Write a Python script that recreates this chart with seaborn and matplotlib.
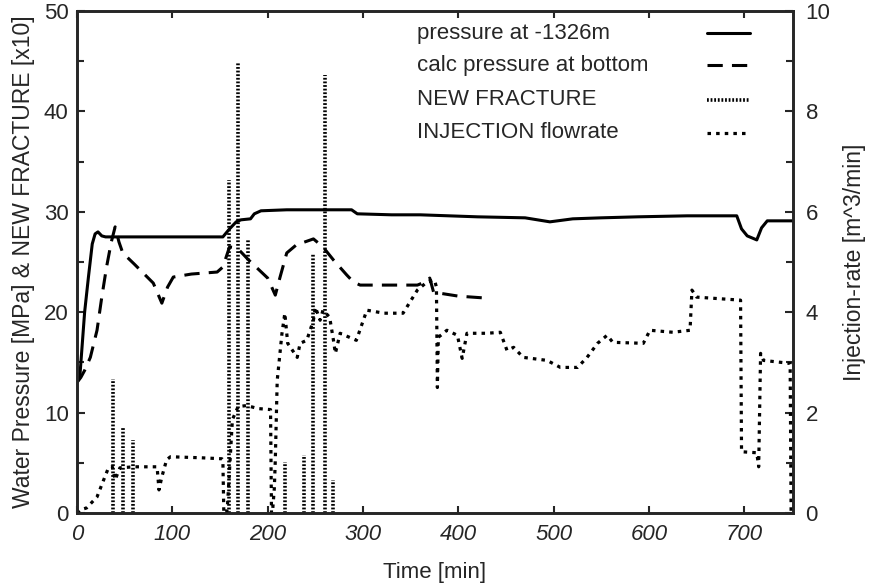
import matplotlib
matplotlib.use("Agg")
import matplotlib.pyplot as plt
import seaborn as sns
from matplotlib.ticker import MultipleLocator
from matplotlib.lines import Line2D

# style first, fonts after (set_style resets font.family)
sns.set_style("ticks")
plt.rcParams['font.family'] = ['Liberation Sans', 'DejaVu Sans']

# pressure at -1326m [MPa]
press_t = [0, 3, 8, 12, 16, 19, 22, 26, 30, 60, 100, 153, 160, 167, 172, 182, 186, 193,
           220, 260, 288, 294, 330, 360, 420, 470, 496, 520, 550, 588, 640, 692, 697,
           703, 713, 718, 724, 735, 750]
press_p = [13.0, 13.6, 20.0, 23.5, 26.8, 27.8, 28.0, 27.6, 27.5, 27.5, 27.5, 27.5, 28.3,
           29.0, 29.2, 29.3, 29.8, 30.1, 30.2, 30.2, 30.2, 29.8, 29.7, 29.7, 29.5, 29.4,
           29.0, 29.3, 29.4, 29.5, 29.6, 29.6, 28.3, 27.6, 27.2, 28.4, 29.1, 29.1, 29.1]

# calc pressure at bottom [MPa]
calc_t = [0, 4, 8, 14, 21, 26, 31, 36, 40, 44, 48, 60, 80, 89, 95, 101, 120, 147, 153,
          160, 168, 180, 190, 200, 208, 213, 220, 230, 248, 258, 269, 283, 290, 297, 330,
          357, 365, 370, 374, 380, 400, 430]
calc_p = [13.0, 13.5, 14.2, 15.5, 18.2, 21.5, 24.5, 27.0, 28.5, 27.0, 25.9, 24.8, 22.9,
          20.9, 22.5, 23.5, 23.8, 24.0, 24.5, 26.5, 26.4, 25.2, 24.3, 23.4, 21.7, 23.5,
          25.9, 26.7, 27.3, 26.5, 25.2, 23.7, 23.0, 22.7, 22.7, 22.7, 23.0, 23.4, 22.0,
          21.9, 21.6, 21.4]

# new fracture events [x10]
frac_t = [38, 48, 59, 159, 169, 179, 218, 238, 248, 260, 268]
frac_h = [13.3, 8.5, 7.3, 33.2, 44.8, 27.2, 5.1, 5.8, 25.9, 43.6, 3.3]

# injection flowrate [m^3/min]
inj_t = [0, 3, 10, 21, 28, 33, 37, 40, 45, 60, 84, 86, 89, 94, 98, 130, 152, 153, 154,
         157, 158, 163, 169, 178, 190, 203, 204, 205, 207, 208, 210, 215, 218, 221, 231,
         234, 241, 248, 250, 255, 258, 265, 269, 271, 276, 293, 304, 322, 342, 357, 367,
         375, 377, 378, 379, 388, 399, 404, 409, 430, 444, 451, 458, 468, 493, 507, 525,
         535, 546, 556, 562, 594, 601, 625, 643, 645, 650, 696, 697, 713, 715, 717, 720,
         748, 749]
inj_q = [0.0, 0.06, 0.1, 0.32, 0.66, 0.9, 0.92, 0.66, 0.9, 0.92, 0.92, 0.46, 0.72, 1.06,
         1.12, 1.1, 1.08, 1.06, 0.0, 0.0, 0.2, 1.86, 2.12, 2.14, 2.08, 2.06, 0.0, 0.0,
         0.5, 1.06, 2.64, 3.58, 3.98, 3.38, 3.1, 3.38, 3.44, 3.84, 4.1, 3.84, 4.04, 3.9,
         3.44, 3.18, 3.58, 3.44, 4.04, 3.98, 3.98, 4.44, 4.6, 4.64, 4.5, 2.5, 3.5, 3.64,
         3.54, 3.08, 3.58, 3.58, 3.6, 3.24, 3.3, 3.1, 3.04, 2.9, 2.9, 3.1, 3.38, 3.54,
         3.4, 3.38, 3.64, 3.6, 3.64, 4.44, 4.3, 4.24, 1.22, 1.2, 0.92, 3.18, 3.04, 2.98,
         0.0]

legend_labels = ['pressure at -1326m', 'calc pressure at bottom',
                 'NEW FRACTURE', 'INJECTION flowrate']

solid_style = '-'
dash_style = (0, (5, 3))
frac_style = (0, (0.5, 0.5))
inj_style = (0, (1.1, 1.6))

fig = plt.figure(figsize=(8.7, 5.86), dpi=100)
ax = fig.add_axes([0.0885, 0.1246, 0.823, 0.8566])
ax2 = ax.twinx()

sns.lineplot(x=press_t, y=press_p, ax=ax, sort=False, estimator=None,
             color='black', lw=2.2, linestyle=solid_style)
sns.lineplot(x=calc_t, y=calc_p, ax=ax, sort=False, estimator=None,
             color='black', lw=2.2, linestyle=dash_style)
ax.vlines(frac_t, 0, frac_h, colors='black', lw=2.6, linestyles=[frac_style])
sns.lineplot(x=inj_t, y=inj_q, ax=ax2, sort=False, estimator=None,
             color='black', lw=2.3, linestyle=inj_style)

ax.set_xlim(0, 751)
ax.set_ylim(0, 50)
ax2.set_ylim(0, 10)

ax.xaxis.set_major_locator(MultipleLocator(100))
ax.yaxis.set_major_locator(MultipleLocator(10))
ax.yaxis.set_minor_locator(MultipleLocator(5))
ax2.yaxis.set_major_locator(MultipleLocator(2))
ax2.yaxis.set_minor_locator(MultipleLocator(1))

ax.tick_params(axis='x', which='both', direction='in', top=True, length=5, width=1.5,
               labelsize=16, pad=8)
ax.tick_params(axis='y', which='major', direction='in', length=6, width=1.5,
               labelsize=16, pad=6)
ax.tick_params(axis='y', which='minor', direction='in', length=5, width=1.5)
ax2.tick_params(axis='y', which='major', direction='in', length=6, width=1.5,
                labelsize=16, pad=9)
ax2.tick_params(axis='y', which='minor', direction='in', length=5, width=1.5)
for lab in ax.get_xticklabels():
    lab.set_fontstyle('italic')

for a in (ax, ax2):
    for sp in a.spines.values():
        sp.set_linewidth(1.9)
        sp.set_visible(True)

ax.set_xlabel('Time [min]', fontsize=16, labelpad=12)
ax.set_ylabel('Water Pressure [MPa] & NEW FRACTURE [x10]', fontsize=16.5, labelpad=6)
ax2.set_ylabel('Injection-rate [m^3/min]', fontsize=16.5, labelpad=9)

# legend: text left-aligned, line samples aligned on the right
styles = [(solid_style, 2.2), (dash_style, 2.2), (frac_style, 2.6), (inj_style, 2.3)]
rows_y = [0.956, 0.892, 0.823, 0.757]
for lab, (ls, lw), yy in zip(legend_labels, styles, rows_y):
    ax2.text(0.475, yy, lab, transform=ax2.transAxes, fontsize=16,
             va='center', ha='left')
    ax2.add_line(Line2D([0.880, 0.940], [yy, yy], transform=ax2.transAxes,
                        color='black', lw=lw, linestyle=ls))

fig.savefig('out.png', dpi=100)
